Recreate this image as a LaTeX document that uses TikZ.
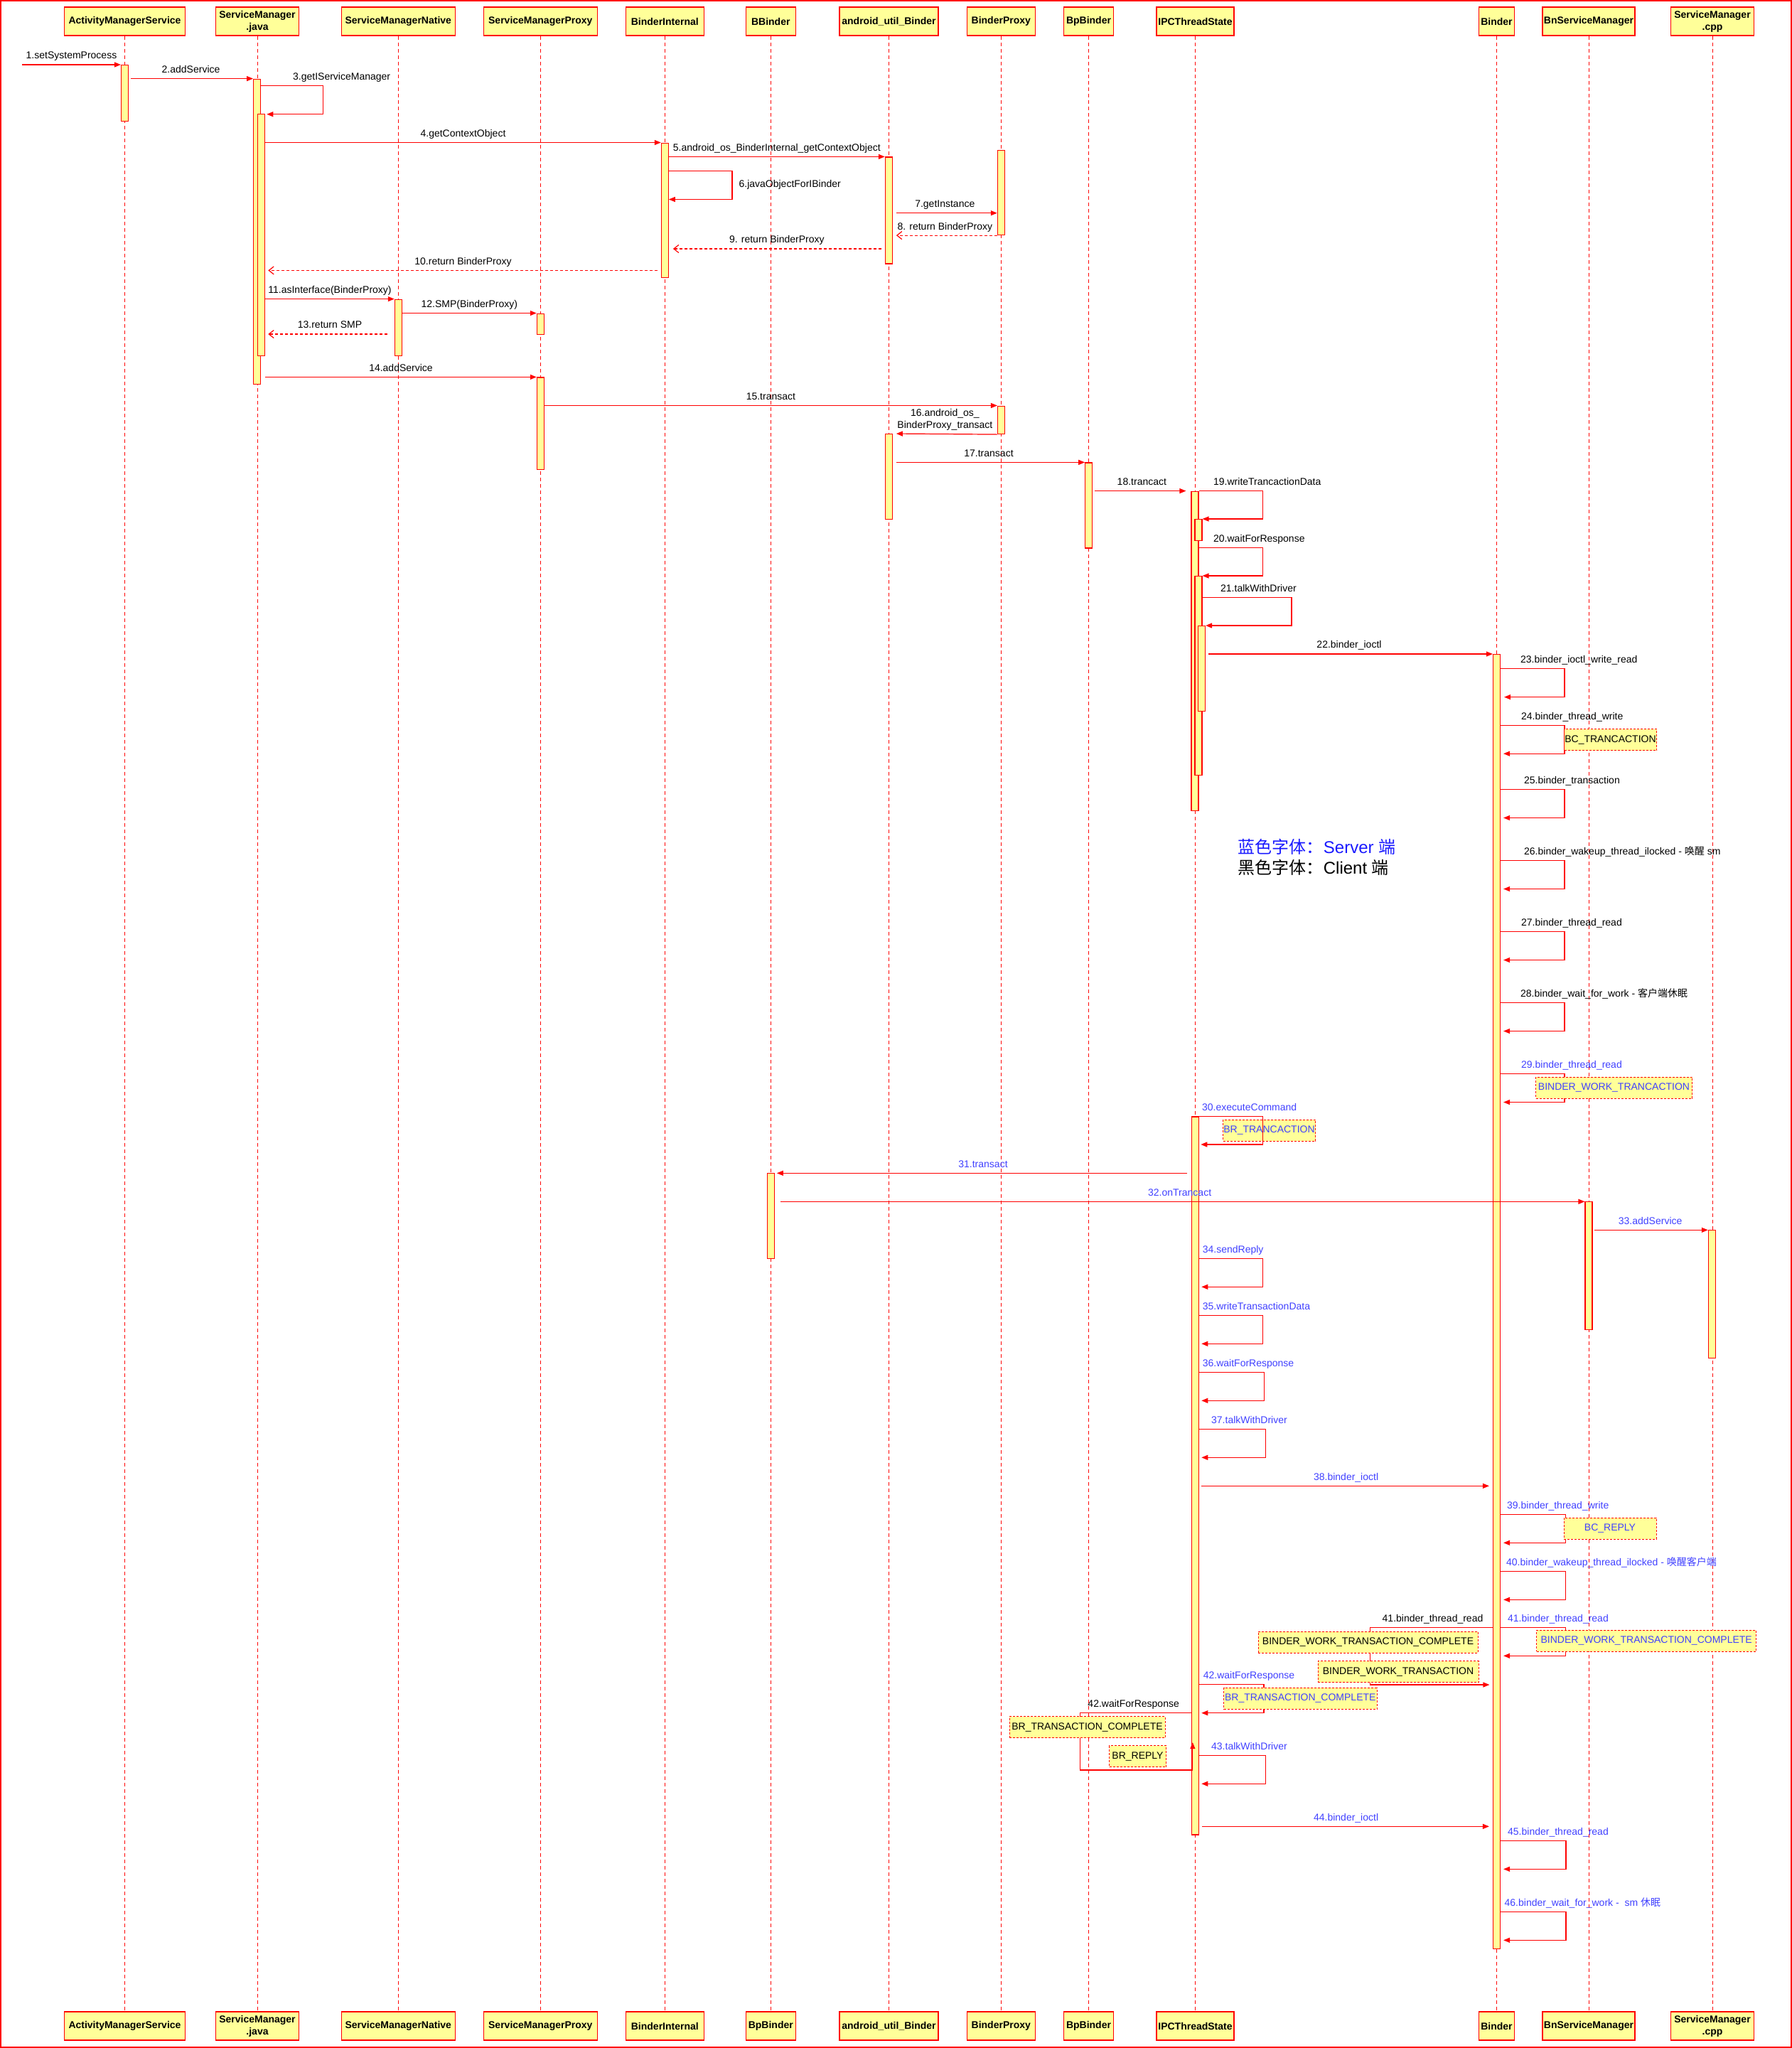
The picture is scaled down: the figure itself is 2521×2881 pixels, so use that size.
\documentclass[tikz,border=0pt]{standalone}
\usepackage{fontspec}
\setmainfont{Liberation Sans}
\newfontfamily\cjk{Noto Sans CJK SC}
\usetikzlibrary{arrows.meta}
\definecolor{umlred}{HTML}{FF0000}
\definecolor{umlyellow}{HTML}{FFFF99}
\definecolor{srvblue}{HTML}{4040FF}
\definecolor{legblue}{HTML}{1A1AFF}

\begin{document}
\begin{tikzpicture}[x=1pt,y=-1pt,
  head/.style={draw=umlred,fill=umlyellow,line width=1.3pt,minimum height=40pt,inner sep=1pt,align=center,text=black,font=\fontsize{14}{17}\selectfont\bfseries},
  life/.style={umlred,line width=0.9pt,dash pattern=on 5pt off 4pt},
  act/.style={draw=umlred,fill=umlyellow,line width=1.1pt,minimum width=10pt,inner sep=0pt,anchor=north},
  msg/.style={umlred,line width=1.2pt,-{Triangle[length=9pt,width=7pt]}},
  ret/.style={umlred,line width=1.2pt,dash pattern=on 4pt off 3pt,-{Straight Barb[length=7pt,width=11pt]}},
  lbl/.style={inner sep=0pt,text height=10pt,text depth=3pt,text=black,font=\fontsize{14}{17}\selectfont},
  srv/.style={lbl,text=srvblue},
  note/.style={draw=umlred,fill=umlyellow,line width=1pt,dash pattern=on 3pt off 2pt,minimum height=30pt,inner sep=0pt,text=black,font=\fontsize{14}{17}\selectfont}]
  \useasboundingbox (0,0) rectangle (2521,2881);
  \draw[umlred,line width=1.5pt] (1,1) rectangle (2520,2880);

  % participants, top row
  \node[head,minimum width=170] (ams) at (175.5,30) {ActivityManagerService};
  \node[head,minimum width=117] (smj) at (362,30) {ServiceManager\\.java};
  \node[head,minimum width=160] (smn) at (560.3,30) {ServiceManagerNative};
  \node[head,minimum width=160] (smp) at (760.3,30) {ServiceManagerProxy};
  \node[head,minimum width=110] (bi) at (935.3,30) {BinderInternal};
  \node[head,minimum width=70] (bb) at (1084.3,30) {BBinder};
  \node[head,minimum width=139] (aub) at (1250.5,30) {android\_util\_Binder};
  \node[head,minimum width=96] (bpx) at (1408.3,30) {BinderProxy};
  \node[head,minimum width=70] (bpb) at (1531.5,30) {BpBinder};
  \node[head,minimum width=109] (ipc) at (1681.5,30) {IPCThreadState};
  \node[head,minimum width=50] (bin) at (2105.5,30) {Binder};
  \node[head,minimum width=130] (bns) at (2235,30) {BnServiceManager};
  \node[head,minimum width=117] (smc) at (2409,30) {ServiceManager\\.cpp};

  % participants, bottom row
  \node[head,minimum width=170] (ams-bot) at (175.5,2850) {ActivityManagerService};
  \node[head,minimum width=117] (smj-bot) at (362,2850) {ServiceManager\\.java};
  \node[head,minimum width=160] (smn-bot) at (560.3,2850) {ServiceManagerNative};
  \node[head,minimum width=160] (smp-bot) at (760.3,2850) {ServiceManagerProxy};
  \node[head,minimum width=110] (bi-bot) at (935.3,2850) {BinderInternal};
  \node[head,minimum width=70] (bb-bot) at (1084.3,2850) {BpBinder};
  \node[head,minimum width=139] (aub-bot) at (1250.5,2850) {android\_util\_Binder};
  \node[head,minimum width=96] (bpx-bot) at (1408.3,2850) {BinderProxy};
  \node[head,minimum width=70] (bpb-bot) at (1531.5,2850) {BpBinder};
  \node[head,minimum width=109] (ipc-bot) at (1681.5,2850) {IPCThreadState};
  \node[head,minimum width=50] (bin-bot) at (2105.5,2850) {Binder};
  \node[head,minimum width=130] (bns-bot) at (2235,2850) {BnServiceManager};
  \node[head,minimum width=117] (smc-bot) at (2409,2850) {ServiceManager\\.cpp};

  \foreach \n in {ams,smj,smn,smp,bi,bb,aub,bpx,bpb,ipc,bin,bns,smc}
    \draw[life] (\n.south) -- (\n-bot.north);

  % activations
  \node[act,minimum height=79] (amsA) at (175.5,91) {};
  \node[act,minimum height=429.4] (smjA) at (361.6,110.6) {};
  \node[act,minimum height=340.4] (smjB) at (367.7,159.6) {};
  \node[act,minimum height=189.5] (biA) at (935.3,200.5) {};
  \node[act,minimum height=150] (aubA) at (1250.3,220.4) {};
  \node[act,minimum height=119.5] (bpxA) at (1408.3,210.5) {};
  \node[act,minimum height=79.4] (smnA) at (560.3,420.6) {};
  \node[act,minimum height=29.5] (smpA) at (760.3,440.5) {};
  \node[act,minimum height=129.6] (smpB) at (760.3,530.4) {};
  \node[act,minimum height=39.5] (bpxB) at (1408.5,570.5) {};
  \node[act,minimum height=120] (aubB) at (1250.3,610) {};
  \node[act,minimum height=120] (bpbA) at (1531.7,650.4) {};
  \node[act,minimum height=449.4] (ipcA) at (1681,690.6) {};
  \node[act,minimum height=30] (ipcB) at (1686,730) {};
  \node[act,minimum height=280] (ipcC) at (1686,810) {};
  \node[act,minimum height=120] (ipcD) at (1690.5,880) {};
  \node[act,minimum height=1820.7] (binA) at (2105.5,920) {};
  \node[act,minimum height=1010] (ipcE) at (1681.7,1570.4) {};
  \node[act,minimum height=120] (bbA) at (1084.3,1650.3) {};
  \node[act,minimum height=180] (bnsA) at (2235,1690.3) {};
  \node[act,minimum height=180] (smcA) at (2408.3,1730.3) {};

  % client side
  \coordinate (caller) at (31,91);
  \draw[msg] (caller) -- (amsA.north west) node[lbl,midway,above=4.5pt] {1.setSystemProcess};
  \draw[msg,shorten <=3pt] (amsA.east |- smjA.north) -- (smjA.north west) node[lbl,midway,above=4.5pt] {2.addService};
  \draw[msg,shorten >=2pt] (smjA.east |- 0,120.5) node[lbl,anchor=south west,xshift=44.4pt,yshift=4.5pt] {3.getIServiceManager} -- ++(87.4,0) |- (smjB.east |- 0,160.7);
  \draw[msg] (smjB.east |- biA.north) -- (biA.north west) node[lbl,midway,above=4.5pt] {4.getContextObject};
  \draw[msg] (biA.east |- aubA.north) -- (aubA.north west) node[lbl,midway,above=4.5pt] {5.android\_os\_BinderInternal\_getContextObject};
  \draw[msg] (biA.east |- 0,240.3) -- (1030,240.3) -- (1030,280.5) node[lbl,midway,anchor=west,xshift=9pt] {6.javaObjectForIBinder} -- (biA.east |- 0,280.5);
  \draw[msg,shorten <=5pt] (aubA.east |- 0,299.7) -- (bpxA.west |- 0,299.7) node[lbl,midway,above=4.5pt] {7.getInstance};
  \draw[ret,shorten >=5pt] (bpxA.south west) -- (aubA.east |- bpxA.south) node[lbl,midway,above=4.5pt] {8. return BinderProxy};
  \draw[ret,shorten <=5pt,shorten >=6pt] (aubA.west |- 0,350) -- (biA.east |- 0,350) node[lbl,midway,above=4.5pt] {9. return BinderProxy};
  \draw[ret,shorten <=5pt,shorten >=4pt] (biA.west |- 0,380.4) -- (smjB.east |- 0,380.4) node[lbl,midway,above=4.5pt] {10.return BinderProxy};
  \draw[msg] (smjB.east |- smnA.north) -- (smnA.north west) node[lbl,midway,above=4.5pt] {11.asInterface(BinderProxy)};
  \draw[msg] (smnA.east |- smpA.north) -- (smpA.north west) node[lbl,midway,above=4.5pt] {12.SMP(BinderProxy)};
  \draw[ret,shorten <=10pt,shorten >=4pt] (smnA.west |- 0,470) -- (smjB.east |- 0,470) node[lbl,midway,above=4.5pt] {13.return SMP};
  \draw[msg] (smjB.east |- smpB.north) -- (smpB.north west) node[lbl,midway,above=4.5pt] {14.addService};
  \draw[msg] (smpB.east |- bpxB.north) -- (bpxB.north west) node[lbl,midway,above=4.5pt] {15.transact};
  \draw[msg,shorten >=5pt] (bpxB.south west) -- (aubB.north east) node[midway,above=4.5pt,inner sep=0pt,align=center,text=black,font=\fontsize{14}{17}\selectfont] {16.android\_os\_\\BinderProxy\_transact};
  \draw[msg,shorten <=5pt] (aubB.east |- bpbA.north) -- (bpbA.north west) node[lbl,midway,above=4.5pt] {17.transact};
  \draw[msg,shorten <=3pt,shorten >=7pt] (bpbA.east |- ipcA.north) -- (ipcA.north west) node[lbl,midway,above=4.5pt] {18.trancact};
  \draw[msg] (ipcA.north east) node[lbl,anchor=south west,xshift=20pt,yshift=4.5pt] {19.writeTrancactionData} -- ++(89.6,0) |- (ipcB.north east);
  \draw[msg] (ipcA.east |- 0,770.5) node[lbl,anchor=south west,xshift=20pt,yshift=4.5pt] {20.waitForResponse} -- ++(90,0) |- (ipcC.north east);
  \draw[msg] (ipcC.east |- 0,840.6) node[lbl,anchor=south west,xshift=25pt,yshift=4.5pt] {21.talkWithDriver} -- ++(125.5,0) |- (ipcD.north east);
  \draw[msg,shorten <=4pt] (ipcD.east |- binA.north) -- (binA.north west) node[lbl,midway,above=4.5pt] {22.binder\_ioctl};

  % driver, client request
  \draw[msg,shorten >=5pt] (binA.east |- 0,940.3) node[lbl,anchor=south west,xshift=27.5pt,yshift=4.5pt] {23.binder\_ioctl\_write\_read} -- ++(90,0) |- (binA.east |- 0,980.6);
  \draw[msg,shorten >=4pt] (binA.east |- 0,1020.4) node[lbl,anchor=south west,xshift=28.5pt,yshift=4.5pt] {24.binder\_thread\_write} -- ++(90,0) |- (binA.east |- 0,1060.2);
  \node[note,minimum width=130] (bcTrans) at (2265.5,1040.8) {BC\_TRANCACTION};
  \draw[msg,shorten >=4pt] (binA.east |- 0,1110.7) node[lbl,anchor=south west,xshift=32.5pt,yshift=4.5pt] {25.binder\_transaction} -- ++(90,0) |- (binA.east |- 0,1150.5);
  \draw[msg,shorten >=4pt] (binA.east |- 0,1210.7) node[lbl,anchor=south west,xshift=32.5pt,yshift=4.5pt] {26.binder\_wakeup\_thread\_ilocked - {\cjk 唤醒} sm} -- ++(90,0) |- (binA.east |- 0,1250.5);
  \draw[msg,shorten >=4pt] (binA.east |- 0,1310.7) node[lbl,anchor=south west,xshift=28.5pt,yshift=4.5pt] {27.binder\_thread\_read} -- ++(90,0) |- (binA.east |- 0,1350.5);
  \draw[msg,shorten >=4pt] (binA.east |- 0,1410.7) node[lbl,anchor=south west,xshift=27.5pt,yshift=4.5pt] {28.binder\_wait\_for\_work - {\cjk 客户端休眠}} -- ++(90,0) |- (binA.east |- 0,1450.5);

  % server side
  \draw[msg,shorten >=4pt] (binA.east |- 0,1510.7) node[srv,anchor=south west,xshift=28.5pt,yshift=4.5pt] {29.binder\_thread\_read} -- ++(90,0) |- (binA.east |- 0,1550.5);
  \node[note,minimum width=220,text=srvblue] (bwTrans) at (2270.5,1530.4) {BINDER\_WORK\_TRANCACTION};
  \node[note,minimum width=130,text=srvblue] (brTrans) at (1785.5,1590) {BR\_TRANCACTION};
  \draw[msg,shorten >=2pt] (ipcE.north east) node[srv,anchor=south west,xshift=3.3pt,yshift=4.5pt] {30.executeCommand} -- ++(89,0) |- (ipcE.east |- 0,1610);
  \draw[msg,shorten <=6pt,shorten >=3pt] (ipcE.west |- bbA.north) -- (bbA.north east) node[srv,midway,above=4.5pt] {31.transact};
  \draw[msg,shorten <=8pt] (bbA.east |- bnsA.north) -- (bnsA.north west) node[srv,midway,above=4.5pt] {32.onTrancact};
  \draw[msg,shorten <=2pt] (bnsA.east |- smcA.north) -- (smcA.north west) node[srv,midway,above=4.5pt] {33.addService};
  \draw[msg,shorten >=3pt] (ipcE.east |- 0,1770.3) node[srv,anchor=south west,xshift=4pt,yshift=4.5pt] {34.sendReply} -- ++(89.3,0) |- (ipcE.east |- 0,1810.3);
  \draw[msg,shorten >=3pt] (ipcE.east |- 0,1850.3) node[srv,anchor=south west,xshift=4pt,yshift=4.5pt] {35.writeTransactionData} -- ++(89.3,0) |- (ipcE.east |- 0,1890.3);
  \draw[msg,shorten >=3pt] (ipcE.east |- 0,1930.3) node[srv,anchor=south west,xshift=4pt,yshift=4.5pt] {36.waitForResponse} -- ++(91.3,0) |- (ipcE.east |- 0,1970.3);
  \draw[msg,shorten >=3pt] (ipcE.east |- 0,2010.3) node[srv,anchor=south west,xshift=16.3pt,yshift=4.5pt] {37.talkWithDriver} -- ++(93,0) |- (ipcE.east |- 0,2050.3);
  \draw[msg,shorten <=3pt,shorten >=5pt] (ipcE.east |- 0,2090.3) -- (binA.west |- 0,2090.3) node[srv,midway,above=4.5pt] {38.binder\_ioctl};
  \draw[msg,shorten >=4pt] (binA.east |- 0,2130.3) node[srv,anchor=south west,xshift=8.5pt,yshift=4.5pt] {39.binder\_thread\_write} -- ++(91.5,0) |- (binA.east |- 0,2170.3);
  \node[note,minimum width=130,text=srvblue] (bcReply) at (2265,2150) {BC\_REPLY};
  \draw[msg,shorten >=4pt] (binA.east |- 0,2210.3) node[srv,anchor=south west,xshift=7.5pt,yshift=4.5pt] {40.binder\_wakeup\_thread\_ilocked - {\cjk 唤醒客户端}} -- ++(91.5,0) |- (binA.east |- 0,2250.3);

  % driver answers both sides
  \draw[msg,shorten >=4.5pt] (binA.west |- 0,2289.3) node[lbl,anchor=south east,xshift=-13pt,yshift=4.5pt] {41.binder\_thread\_read} -- ++(-172.7,0) |- (binA.west |- 0,2370);
  \node[note,minimum width=309] (bwtcCli) at (1924.5,2310.3) {BINDER\_WORK\_TRANSACTION\_COMPLETE};
  \node[note,minimum width=226] (bwtCli) at (1967,2351.7) {BINDER\_WORK\_TRANSACTION};
  \draw[msg,shorten >=4pt] (binA.east |- 0,2289.3) node[srv,anchor=south west,xshift=9.5pt,yshift=4.5pt] {41.binder\_thread\_read} -- ++(91.5,0) |- (binA.east |- 0,2329.3);
  \node[note,minimum width=308.5,text=srvblue] (bwtcSrv) at (2316.2,2308.3) {BINDER\_WORK\_TRANSACTION\_COMPLETE};
  \draw[msg,shorten >=3pt] (ipcE.east |- 0,2369.3) node[srv,anchor=south west,xshift=5pt,yshift=4.5pt] {42.waitForResponse} -- ++(90.7,0) |- (ipcE.east |- 0,2409.7);
  \node[note,minimum width=215.4,text=srvblue] (brtcSrv) at (1829.3,2389.3) {BR\_TRANSACTION\_COMPLETE};
  \draw[msg] (ipcE.west |- 0,2409.3) node[lbl,anchor=south east,xshift=-16.7pt,yshift=4.5pt] {42.waitForResponse} -- ++(-157,0) -- ++(0,80.7) -- ++(158.7,0) -- ++(0,-39);
  \node[note,minimum width=219] (brtcCli) at (1529.5,2429.7) {BR\_TRANSACTION\_COMPLETE};
  \node[note,minimum width=80] (brReply) at (1600.5,2470.9) {BR\_REPLY};
  \draw[msg,shorten >=3pt] (ipcE.east |- 0,2469.3) node[srv,anchor=south west,xshift=16.3pt,yshift=4.5pt] {43.talkWithDriver} -- ++(93.6,0) |- (ipcE.east |- 0,2509.3);
  \draw[msg,shorten <=4pt,shorten >=5pt] (ipcE.east |- 0,2569.3) -- (binA.west |- 0,2569.3) node[srv,midway,above=4.5pt] {44.binder\_ioctl};
  \draw[msg,shorten >=4pt] (binA.east |- 0,2589.3) node[srv,anchor=south west,xshift=9.5pt,yshift=4.5pt] {45.binder\_thread\_read} -- ++(92,0) |- (binA.east |- 0,2629.3);
  \draw[msg,shorten >=4pt] (binA.east |- 0,2689.3) node[srv,anchor=south west,xshift=5pt,yshift=4.5pt] {46.binder\_wait\_for\_work -~ sm {\cjk 休眠}} -- ++(92,0) |- (binA.east |- 0,2729.3);

  % legend
  \node[anchor=west,align=left,inner sep=0pt,text=black,font=\fontsize{24}{29}\selectfont] (legend) at (1741.7,1205.4) {\textcolor{legblue}{{\cjk 蓝色字体：}Server {\cjk 端}}\\{\cjk 黑色字体：}Client {\cjk 端}};
\end{tikzpicture}
\end{document}
